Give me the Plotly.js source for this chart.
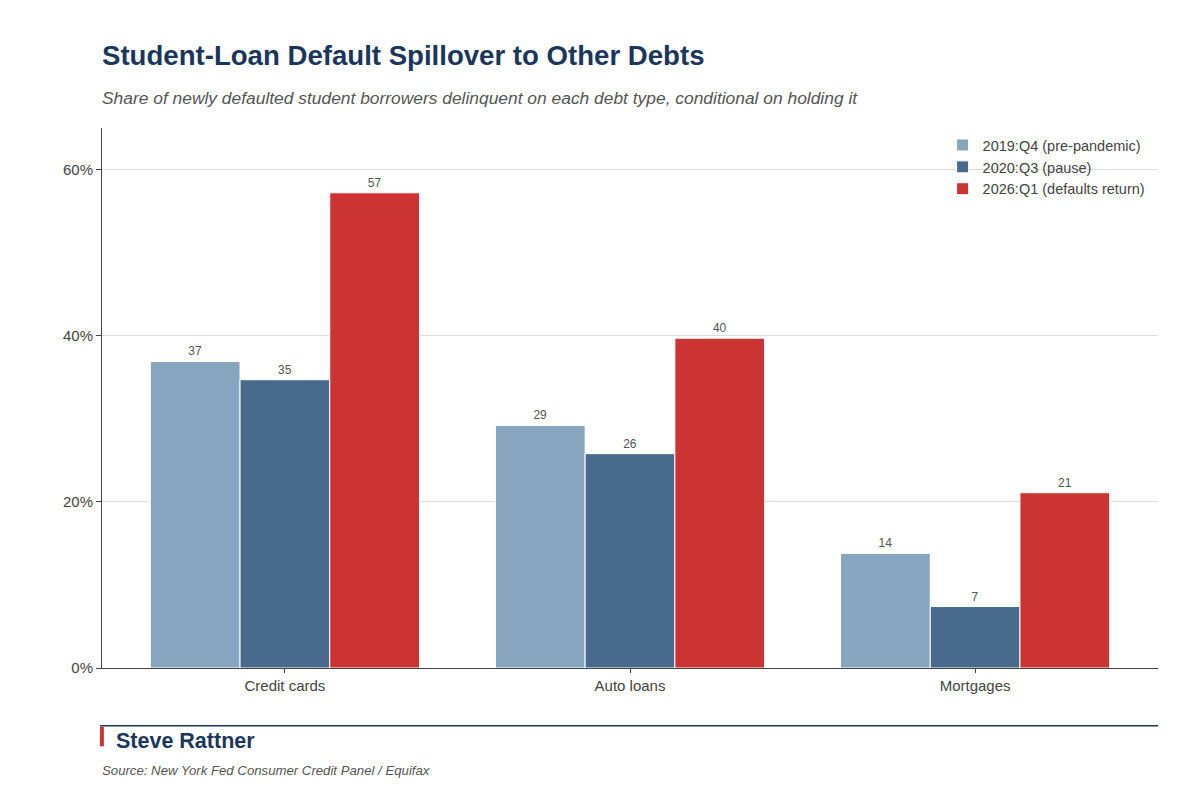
<!DOCTYPE html>
<html>
<head>
<meta charset="utf-8">
<script src="https://cdn.plot.ly/plotly-3.0.1.min.js"></script>
<style>
  body { margin: 0; background: #fff; }
  #chart { width: 1200px; height: 800px; }
</style>
</head>
<body>
<div id="chart"></div>
<script>
var categories = ['Credit cards', 'Auto loans', 'Mortgages']
var q4_2019 = [36.9, 29.2, 13.8]
var q3_2020 = [34.7, 25.8, 7.4]
var q1_2026 = [57.2, 39.7, 21.1]
var seriesNames = ['2019:Q4 (pre-pandemic)', '2020:Q3 (pause)', '2026:Q1 (defaults return)']
var seriesColors = ['#87a5bf', '#486a8c', '#cc3333']
var yTicks = [0, 20, 40, 60]
var yTickLabels = ['0%', '20%', '40%', '60%']

function makeBar(vals, i) {
    return {
        type: 'bar',
        name: seriesNames[i],
        x: categories,
        y: vals,
        marker: { color: seriesColors[i], line: { color: '#ffffff', width: 1 } },
        text: vals.map(function (v) { return Math.round(v) }),
        texttemplate: '%{text}',
        textposition: 'outside',
        cliponaxis: false,
        textfont: { size: 12, color: '#555555', family: 'Liberation Sans, Arial, sans-serif' },
        hoverinfo: 'x+y+name'
    }
}

var data = [makeBar(q4_2019, 0), makeBar(q3_2020, 1), makeBar(q1_2026, 2)]

var layout = {
    width: 1200,
    height: 800,
    margin: { l: 102, r: 42, t: 128, b: 132 },
    paper_bgcolor: '#ffffff',
    plot_bgcolor: '#ffffff',
    font: { family: 'Liberation Sans, Arial, sans-serif', color: '#444444' },
    barmode: 'group',
    bargap: 0.22,
    bargroupgap: 0,
    showlegend: true,
    legend: {
        x: 0.993, y: 0.998, xanchor: 'right', yanchor: 'top',
        bgcolor: 'rgba(0,0,0,0)',
        font: { size: 14.5, color: '#444444' },
        itemwidth: 30,
        tracegroupgap: 0
    },
    xaxis: {
        range: [-0.53, 2.53],
        showline: true,
        linecolor: '#444444',
        linewidth: 1,
        ticks: 'outside',
        ticklen: 4,
        tickcolor: '#444444',
        tickfont: { size: 15, color: '#444444' },
        showgrid: false,
        fixedrange: true
    },
    yaxis: {
        range: [0, 65],
        tickvals: yTicks,
        ticktext: yTickLabels,
        showline: true,
        linecolor: '#444444',
        linewidth: 1,
        ticks: 'outside',
        ticklen: 5,
        tickcolor: '#444444',
        tickfont: { size: 15, color: '#444444' },
        gridcolor: '#dddddd',
        zeroline: false,
        fixedrange: true
    },
    shapes: [
        { type: 'line', xref: 'paper', yref: 'paper', x0: -0.002, x1: 1, y0: -0.107, y1: -0.107,
          line: { color: '#1b365d', width: 1.5 } },
        { type: 'rect', xref: 'paper', yref: 'paper', x0: -0.002, x1: 0.0018, y0: -0.145, y1: -0.109,
          fillcolor: '#cc3333', line: { width: 0 } }
    ],
    annotations: [
        { text: '<b>Student-Loan Default Spillover to Other Debts</b>', xref: 'paper', yref: 'paper',
          x: 0, y: 1.135, xanchor: 'left', yanchor: 'middle', xshift: -2, showarrow: false,
          font: { size: 27.6, color: '#1b365d' } },
        { text: '<i>Share of newly defaulted student borrowers delinquent on each debt type, conditional on holding it</i>',
          xref: 'paper', yref: 'paper', x: 0, y: 1.055, xanchor: 'left', yanchor: 'middle', xshift: -2,
          showarrow: false, font: { size: 17.4, color: '#555555' } },
        { text: '<b>Steve Rattner</b>', xref: 'paper', yref: 'paper', x: 0.013, y: -0.135,
          xanchor: 'left', yanchor: 'middle', xshift: -2, showarrow: false,
          font: { size: 21.5, color: '#1b365d' } },
        { text: '<i>Source: New York Fed Consumer Credit Panel / Equifax</i>', xref: 'paper', yref: 'paper',
          x: 0, y: -0.19, xanchor: 'left', yanchor: 'middle', xshift: -2, showarrow: false,
          font: { size: 13.2, color: '#555555' } }
    ]
}

var config = { responsive: false, displayModeBar: false }

Plotly.newPlot('chart', data, layout, config)
</script>
</body>
</html>
